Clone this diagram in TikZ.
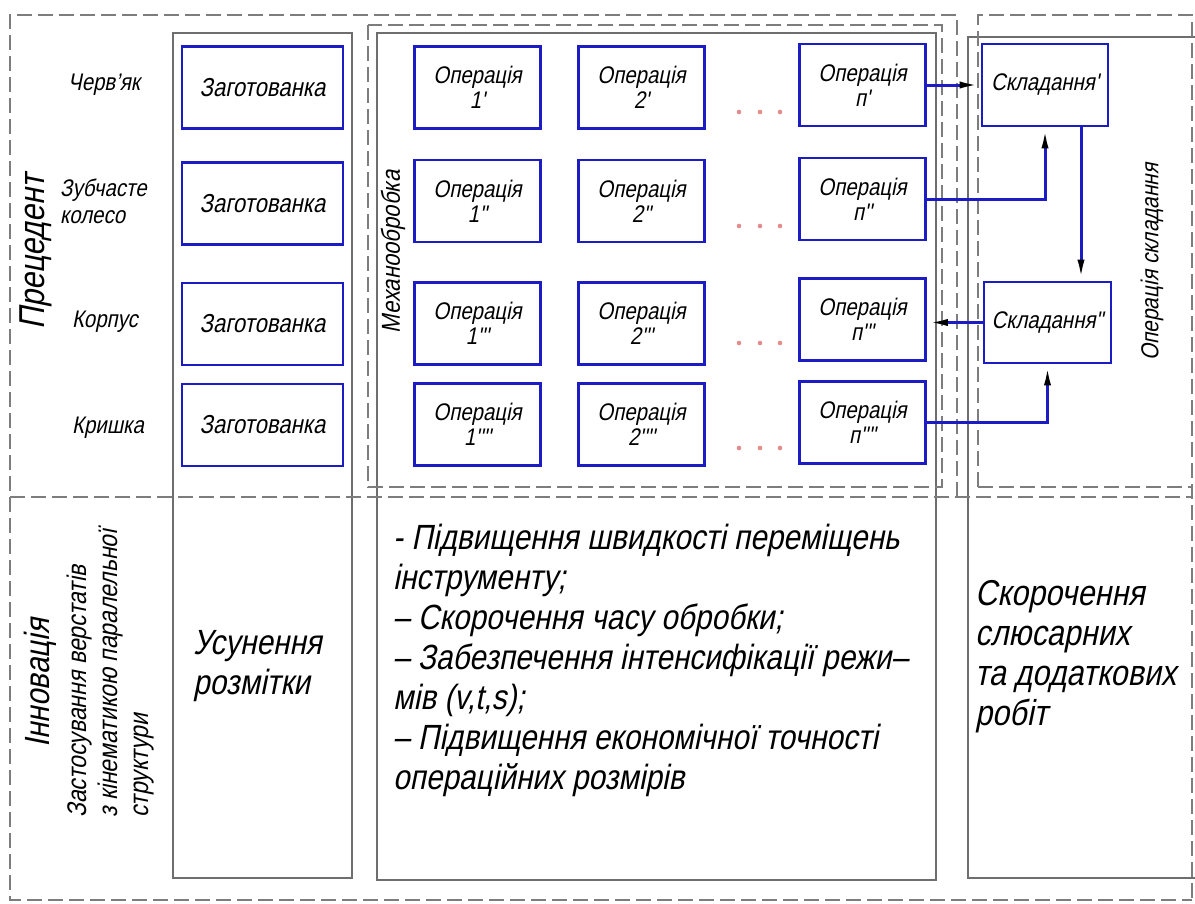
\documentclass[tikz,border=0pt]{standalone}
\usepackage{fontspec}
\usetikzlibrary{arrows.meta}
\newfontfamily\gost{Liberation Sans}[FakeSlant=0.2, FakeStretch=0.85]
\definecolor{boxblue}{RGB}{28,28,196}
\definecolor{frameg}{RGB}{110,110,110}
\definecolor{dashg}{RGB}{125,125,125}
\definecolor{dotpink}{RGB}{228,140,140}
\newcommand\fsz[2]{\fontsize{#1}{#2}\selectfont}
\begin{document}
\begin{tikzpicture}[x=1pt,y=-1pt,
  every node/.style={font=\gost},
  bbox/.style={draw=boxblue, line width=2.6pt, inner sep=0pt, align=center},
  zbox/.style={bbox, minimum width=161pt, minimum height=82pt, font={\gost\fsz{26}{27}}},
  obox/.style={bbox, minimum width=126pt, minimum height=82pt, font={\gost\fsz{24}{25}}},
  sbox/.style={bbox, minimum width=126pt, minimum height=82pt, font={\gost\fsz{24}{25}}},
  colframe/.style={draw=frameg, line width=1.2pt},
  dsh/.style={draw=dashg, line width=1.2pt, dash pattern=on 15pt off 6pt},
  flow/.style={draw=boxblue, line width=3pt, -{Latex[length=21pt,width=7pt,color=black]}},
  lbl/.style={font={\gost\fsz{24}{27}}, align=left, inner sep=0pt},
  big/.style={font={\gost\fsz{35}{40}}, align=left, inner sep=0pt},
]
\fill[white] (0,0) rectangle (1195,903);
\useasboundingbox (0,0) rectangle (1195,903);

% solid column frames
\draw[colframe] (173,33) rectangle (352,878);
\draw[colframe] (377,33) rectangle (936,880);
\draw[colframe] (1195,37) -- (968,37) -- (968,878) -- (1195,878);

% dashed frames
\draw[dsh] (368,25) rectangle (942,487);
\draw[dsh] (957,497) -- (957,15) -- (10,15) -- (10,900) -- (1192,900);
\draw[dsh] (978,487) -- (978,15) -- (1192,15) -- (1192,900);
\draw[dsh] (978,487) -- (1192,487);
\draw[dsh] (10,497) -- (1192,497);

% blanks
\node[zbox] (z1) at (262.5,87.5) {Заготованка};
\node[zbox] (z2) at (262.5,203.5) {Заготованка};
\node[zbox] (z3) at (262.5,324) {Заготованка};
\node[zbox] (z4) at (262.5,425) {Заготованка};

% operations
\node[obox] (o11) at (477.5,87.5) {Операція\\1'};
\node[obox] (o21) at (641.5,87.5) {Операція\\2'};
\node[obox] (on1) at (862.5,85) {Операція\\п'};
\node[obox] (o12) at (477.5,201) {Операція\\1''};
\node[obox] (o22) at (641.5,201) {Операція\\2''};
\node[obox] (on2) at (862.5,199) {Операція\\п''};
\node[obox] (o13) at (477.5,323.5) {Операція\\1'''};
\node[obox] (o23) at (641.5,323.5) {Операція\\2'''};
\node[obox] (on3) at (862.5,319.5) {Операція\\п'''};
\node[obox] (o14) at (477.5,424.5) {Операція\\1''''};
\node[obox] (o24) at (641.5,424.5) {Операція\\2''''};
\node[obox] (on4) at (862.5,422.5) {Операція\\п''''};

% assembly
\node[sbox] (s1) at (1045,85) {Складання'};
\node[sbox, minimum width=127pt, minimum height=81pt] (s2) at (1047.5,322.5) {Складання''};

% dots
\foreach \yy in {112,226,343,448}{
  \foreach \xx in {739,760,780}{
    \fill[dotpink] (\xx,\yy) circle (2.3pt);
  }
}

% connectors
\draw[flow] (on1.east) -- (s1.west);
\draw[flow] (on2.east) -| (s1.south);
\coordinate (d1) at ([xshift=36pt]s1.south);
\draw[flow] (d1) -- (d1 |- s2.north);
\draw[flow] (s2.west) -- (s2.west -| on3.east);
\draw[flow] (on4.east) -| (s2.south);

% part labels
\node[lbl] (l1) at (104,85) {Черв’як};
\node[lbl, anchor=west] (l2) at (60,201) {Зубчасте\\колесо};
\node[lbl] (l3) at (105,322) {Корпус};
\node[lbl] (l4) at (108,428) {Кришка};

% rotated headings
\node[rotate=90, font={\gost\fsz{36}{40}}] (prec) at (36,252) {Прецедент};
\node[rotate=90, font={\gost\fsz{26}{30}}] (mech) at (393,252) {Механообробка};
\node[rotate=90, font={\gost\fsz{24.5}{28}}] (opsk) at (1152,262) {Операція складання};
\node[rotate=90, font={\gost\fsz{35}{40}}] (innov) at (40,683) {Інновація};
\node[rotate=90, anchor=west, align=left, inner sep=0pt, font={\gost\fsz{27}{31}}] (zast) at (111,818) {Застосування верстатів\\з кінематикою паралельної\\структури};

% innovation texts
\node[big] [anchor=north west] (usun) at (193,630) {Усунення\\розмітки};
\node[big, anchor=north west, font={\gost\fsz{35}{40}}] (mid) at (393,524) {- Підвищення швидкості переміщень\\інструменту;\\– Скорочення часу обробки;\\– Забезпечення інтенсифікації режи–\\мів (v,t,s);\\– Підвищення економічної точності\\операційних розмірів};
\node[big, anchor=north west, font={\gost\fsz{36}{40}}] (skor) at (975,580) {Скорочення\\слюсарних\\та додаткових\\робіт};
\end{tikzpicture}
\end{document}
